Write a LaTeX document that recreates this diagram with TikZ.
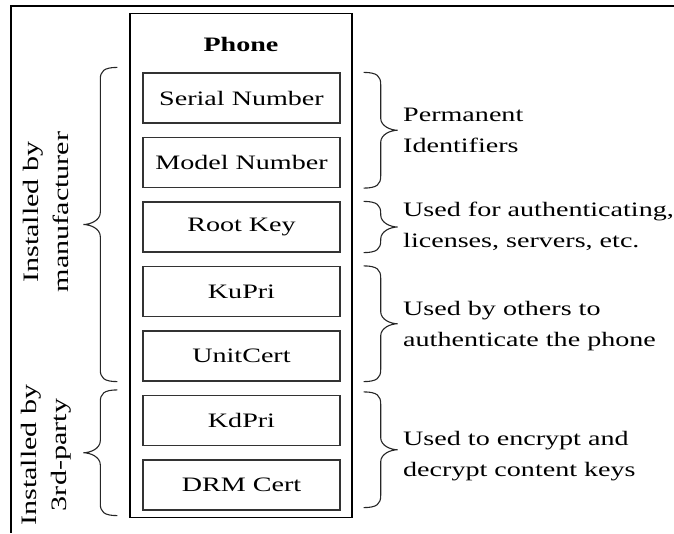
\documentclass[tikz,border=0pt]{standalone}
\usepackage{fontspec}
\setmainfont{Liberation Serif}[FakeStretch=1.37]
\usetikzlibrary{positioning,calc}

\tikzset{
  keybox/.style={draw=black!80, line width=1.2pt, minimum width=197pt,
    minimum height=50pt, inner sep=0pt},
  note/.style={anchor=base west, align=left, inner sep=0pt},
  side/.style={rotate=90, align=center, inner sep=0pt,
    font=\fontsize{22}{30}\selectfont},
  % curly brace drawn top to bottom, #1 = how far the tip sticks out
  brace/.style={draw=black!85, line width=1.1pt, to path={
    let \p1=(\tikztostart), \p2=(\tikztotarget),
        \p3=($(\tikztostart)!.5!(\tikztotarget)$) in
    (\p1) .. controls +(0.4*#1,0pt) and +(0pt,8pt) .. (\x1+0.5*#1,\y1-12pt)
    -- (\x1+0.5*#1,\y3+12pt)
    .. controls +(0pt,-8pt) and +(-0.2*#1,0pt) .. (\x1+#1,\y3)
    .. controls +(-0.2*#1,0pt) and +(0pt,8pt) .. (\x1+0.5*#1,\y3-12pt)
    -- (\x1+0.5*#1,\y2+12pt)
    .. controls +(0pt,-8pt) and +(0.4*#1,0pt) .. (\p2)}},
}

\begin{document}
\begin{tikzpicture}[x=1pt, y=-1pt, font=\fontsize{20.5}{31}\selectfont]
\useasboundingbox (0,0) rectangle (674,533);
% frame, only its top and left edges are in the picture
\draw[line width=2pt] (674,6) -- (11,6) -- (11,533);

\node[draw, line width=1.4pt, minimum width=222pt, minimum height=504pt,
  inner sep=0pt] (phone) at (241,265.5) {};
\node[font=\fontsize{20.5}{24}\selectfont\bfseries] (title) at (241,44) {Phone};

\node[keybox] (serial) at (241.5,98) {Serial Number};
\node[keybox, below=13.3pt of serial] (model) {Model Number};
\node[keybox, below=13.3pt of model] (root) {Root Key};
\node[keybox, below=13.3pt of root] (kupri) {KuPri};
\node[keybox, below=13.3pt of kupri] (unit) {UnitCert};
\node[keybox, below=13.3pt of unit] (kdpri) {KdPri};
\node[keybox, below=13.3pt of kdpri] (drm) {DRM Cert};

% braces on the right
\draw[brace=34pt] ($(phone.east |- serial.north)+(11,0)$) to ($(phone.east |- model.south)+(11,0)$);
\draw[brace=34pt] ($(phone.east |- root.north)+(11,0)$) to ($(phone.east |- root.south)+(11,0)$);
\draw[brace=34pt] ($(phone.east |- kupri.north)+(11,0)$) to ($(phone.east |- unit.south)+(11,0)$);
\draw[brace=34pt] ($(phone.east |- kdpri.north)+(11,-3)$) to ($(phone.east |- drm.south)+(11,-3)$);

\node[note] (perm) at (403,152) {Permanent\\Identifiers};
\node[note] (auth) at (403,247) {Used for authenticating,\\licenses, servers, etc.};
\node[note] (others) at (403,346) {Used by others to\\authenticate the phone};
\node[note] (crypt) at (403,476) {Used to encrypt and\\decrypt content keys};

% braces on the left
\draw[brace=-34pt] ($(phone.west |- serial.north)+(-12,-5)$) to ($(phone.west |- unit.south)+(-12,0)$);
\draw[brace=-34pt] ($(phone.west |- kdpri.north)+(-12,-5)$) to ($(phone.west |- drm.south)+(-12,5)$);

\node[side] (maker) at (46,212) {Installed by\\manufacturer};
\node[side] (third) at (46,455) {Installed by\\3rd-party};
\end{tikzpicture}
\end{document}
